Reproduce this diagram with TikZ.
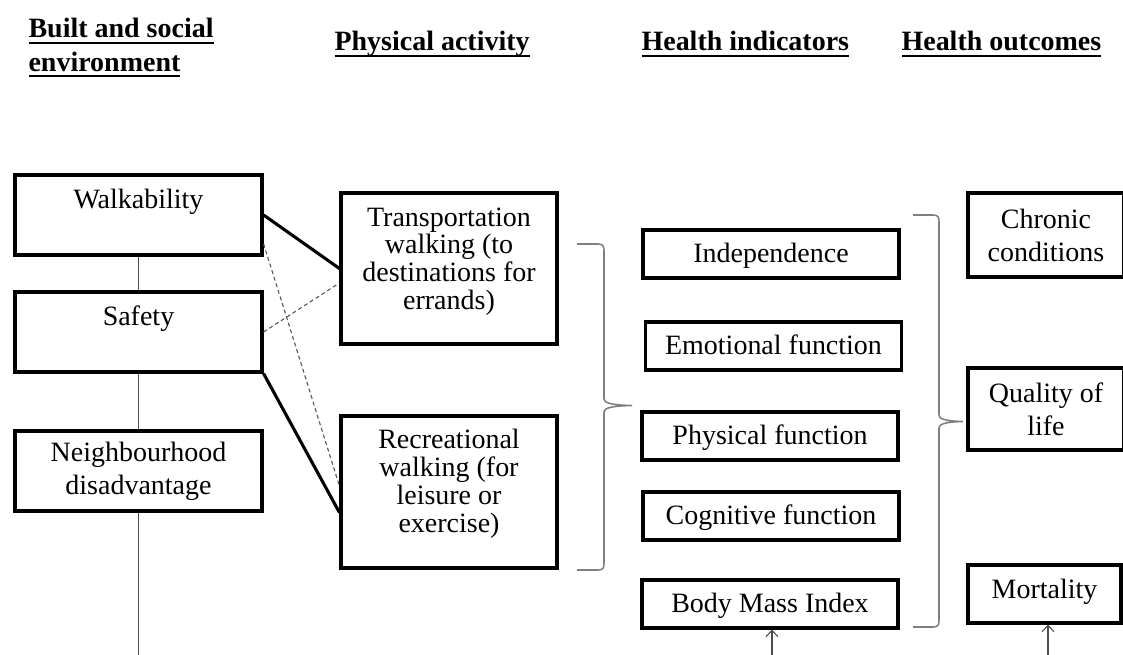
\documentclass[tikz,border=0pt]{standalone}
\usepackage{fontspec}
\setmainfont{Liberation Serif}
\usetikzlibrary{arrows.meta}
\definecolor{cline}{HTML}{4D4D4D}
\definecolor{cdash}{HTML}{595959}
\definecolor{cbrace}{HTML}{7F7F7F}
\newsavebox\hdbox
\newcommand\hdul[1]{\sbox\hdbox{#1}\rlap{\rule[-4.4pt]{\wd\hdbox}{1.6pt}}\usebox\hdbox}
\tikzset{
  every picture/.style={line width=2.2pt},
  box/.style={draw, line width=2.2pt, inner sep=0pt, align=center, font=\fontsize{19.9}{23.5}\selectfont},
  tightbox/.style={box, font=\fontsize{19.9}{19.9}\selectfont},
  onebox/.style={box, text height=13.9pt, text depth=2pt},
  title/.style={inner sep=0pt, align=left, font=\bfseries\fontsize{19.9}{23.5}\selectfont},
  link/.style={draw=cline, line width=0.8pt},
  strong/.style={draw=black, line width=2.2pt},
  weak/.style={draw=cdash, line width=0.8pt, dash pattern=on 2.8pt off 2.1pt},
  arrow/.style={-{Straight Barb[length=4.5pt, width=8.5pt]}, draw=cline, line width=0.8pt},
  brace/.style={draw=cbrace, line width=1.1pt},
}

\begin{document}
\begin{tikzpicture}[x=0.025cm, y=-0.025cm]
  \useasboundingbox (0,0) rectangle (1123,655);
  \node[title, anchor=north west] (hbuilt) at (27,17) {\hdul{Built and social}\\\hdul{environment}};
  \node[title, anchor=base west] (hpa) at (333,51) {\hdul{Physical activity}};
  \node[title, anchor=base west] (hind) at (640,51) {\hdul{Health indicators}};
  \node[title, anchor=base west] (hout) at (900,51) {\hdul{Health outcomes}};

  \node[box, minimum width=6.175cm, minimum height=2cm] (walk) at (138.5,215) {Walkability\\\mbox{}};
  \node[box, minimum width=6.175cm, minimum height=2cm] (safe) at (138.5,332) {Safety\\\mbox{}};
  \node[box, minimum width=6.175cm, minimum height=2cm] (nbhd) at (138.5,471) {Neighbourhood\\disadvantage};
  \coordinate (nbend) at (138.5,655);
  \draw[link] (walk) -- (safe);
  \draw[link] (safe) -- (nbhd);
  \draw[link] (nbhd) -- (nbend);

  \node[tightbox, minimum width=5.4cm, minimum height=3.775cm] (trans) at (449,268.5) {Transportation\\walking (to\\destinations for\\errands)\\[-6pt]\mbox{}};
  \node[tightbox, minimum width=5.4cm, minimum height=3.8cm] (rec) at (449,492) {Recreational\\walking (for\\leisure or\\exercise)\\[-3.5pt]\mbox{}};
  \draw[strong] (walk.east) -- (trans.west);
  \draw[strong] (safe.south east) -- ([yshift=-14.6pt]rec.west);
  \draw[weak] ([yshift=9pt]walk.south east) -- ([yshift=4.3pt]rec.west);
  \draw[weak] (safe.east) -- ([yshift=-10.3pt]trans.west);

  \draw[brace] (577,244) -- (598,244) .. controls (603,244) and (604,246) .. (604,251) -- (604,399) .. controls (604,403) and (611,405) .. (632,405.5) .. controls (611,406) and (604,408) .. (604,412) -- (604,563) .. controls (604,568) and (603,570) .. (598,570) -- (577,570);

  \node[onebox, minimum width=6.4cm, minimum height=1.2cm] (indep) at (771,254) {Independence};
  \node[onebox, minimum width=6.4cm, minimum height=1.2cm] (emot) at (773.5,346) {Emotional function};
  \node[onebox, minimum width=6.4cm, minimum height=1.2cm] (phys) at (770,436) {Physical function};
  \node[onebox, minimum width=6.4cm, minimum height=1.2cm] (cogn) at (771,516) {Cognitive function};
  \node[onebox, minimum width=6.4cm, minimum height=1.2cm] (bmi) at (770,604) {Body Mass Index};
  \coordinate (bmiin) at (772,655);
  \draw[arrow] (bmiin) -- (bmiin |- bmi.south);

  \draw[brace] (913,215) -- (933,215) .. controls (938,215) and (939,217) .. (939,222) -- (939,415) .. controls (939,419) and (945,421) .. (963,421.5) .. controls (945,422) and (939,424) .. (939,428) -- (939,620) .. controls (939,625) and (938,627) .. (933,627) -- (913,627);

  \node[box, minimum width=3.9cm, minimum height=2.1cm] (chron) at (1046,235) {Chronic\\conditions};
  \node[box, minimum width=3.9cm, minimum height=2.05cm] (qual) at (1046,409) {Quality of\\life};
  \node[box, text height=13.9pt, text depth=8pt, minimum width=3.825cm, minimum height=1.45cm] (mort) at (1044.5,594) {Mortality};
  \coordinate (mortin) at (1048,655);
  \draw[arrow] (mortin) -- (mortin |- mort.south);
\end{tikzpicture}
\end{document}
